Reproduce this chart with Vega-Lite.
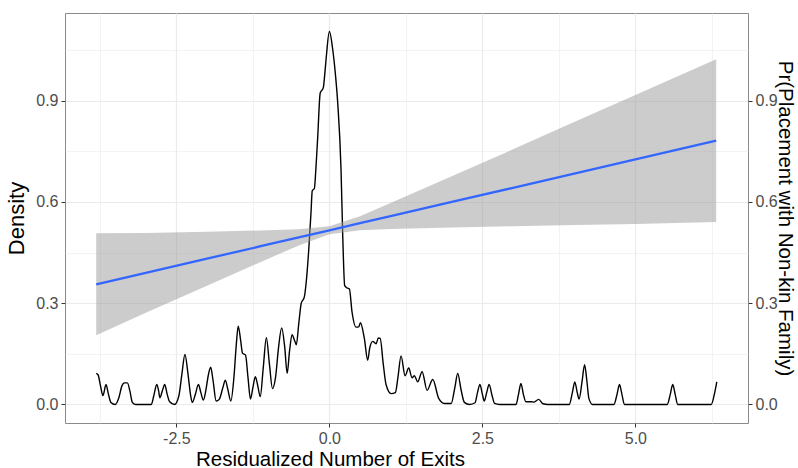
{
  "$schema": "https://vega.github.io/schema/vega-lite/v6.json",
  "width": 683,
  "height": 410,
  "autosize": {"type": "none"},
  "padding": {"left": 65, "top": 13, "right": 50, "bottom": 45},
  "background": "white",
  "config": {
    "font": "Liberation Sans",
    "view": {"stroke": "#8a8a8a", "strokeWidth": 1},
    "axis": {
      "domain": false,
      "gridColor": "#EBEBEB",
      "tickColor": "#333333",
      "tickSize": 4,
      "labelColor": "#4D4D4D",
      "labelFontSize": 16,
      "titleFontSize": 22,
      "titleColor": "#000000",
      "titleFontWeight": "normal",
      "labelFlush": false
    }
  },
  "datasets": {
    "density": [
      {"x": -3.81, "density": 0.092}, {"x": -3.78, "density": 0.088}, {"x": -3.74, "density": 0.055}, {"x": -3.70, "density": 0.026},
      {"x": -3.65, "density": 0.059}, {"x": -3.61, "density": 0.030}, {"x": -3.57, "density": 0.006}, {"x": -3.50, "density": 0.0},
      {"x": -3.44, "density": 0.020}, {"x": -3.39, "density": 0.055}, {"x": -3.35, "density": 0.064}, {"x": -3.30, "density": 0.064},
      {"x": -3.26, "density": 0.040}, {"x": -3.22, "density": 0.006}, {"x": -3.17, "density": 0.0}, {"x": -2.91, "density": 0.0},
      {"x": -2.87, "density": 0.025}, {"x": -2.82, "density": 0.059}, {"x": -2.79, "density": 0.040}, {"x": -2.77, "density": 0.020},
      {"x": -2.73, "density": 0.040}, {"x": -2.69, "density": 0.059}, {"x": -2.65, "density": 0.030}, {"x": -2.61, "density": 0.008},
      {"x": -2.53, "density": 0.0}, {"x": -2.46, "density": 0.025}, {"x": -2.41, "density": 0.090}, {"x": -2.36, "density": 0.148},
      {"x": -2.31, "density": 0.090}, {"x": -2.27, "density": 0.030}, {"x": -2.24, "density": 0.006}, {"x": -2.19, "density": 0.030},
      {"x": -2.14, "density": 0.059}, {"x": -2.10, "density": 0.035}, {"x": -2.06, "density": 0.013}, {"x": -2.02, "density": 0.040},
      {"x": -1.98, "density": 0.085}, {"x": -1.94, "density": 0.110}, {"x": -1.90, "density": 0.070}, {"x": -1.85, "density": 0.010},
      {"x": -1.80, "density": 0.015}, {"x": -1.74, "density": 0.050}, {"x": -1.70, "density": 0.072}, {"x": -1.66, "density": 0.045},
      {"x": -1.61, "density": 0.010}, {"x": -1.56, "density": 0.080}, {"x": -1.52, "density": 0.180}, {"x": -1.49, "density": 0.232},
      {"x": -1.45, "density": 0.190}, {"x": -1.42, "density": 0.152}, {"x": -1.37, "density": 0.146}, {"x": -1.33, "density": 0.080},
      {"x": -1.29, "density": 0.016}, {"x": -1.25, "density": 0.050}, {"x": -1.21, "density": 0.082}, {"x": -1.17, "density": 0.055},
      {"x": -1.13, "density": 0.023}, {"x": -1.08, "density": 0.110}, {"x": -1.03, "density": 0.198}, {"x": -0.98, "density": 0.120},
      {"x": -0.93, "density": 0.047}, {"x": -0.88, "density": 0.080}, {"x": -0.83, "density": 0.170}, {"x": -0.78, "density": 0.227},
      {"x": -0.73, "density": 0.170}, {"x": -0.69, "density": 0.092}, {"x": -0.65, "density": 0.160}, {"x": -0.61, "density": 0.207},
      {"x": -0.57, "density": 0.190}, {"x": -0.54, "density": 0.177}, {"x": -0.50, "density": 0.240}, {"x": -0.46, "density": 0.300},
      {"x": -0.41, "density": 0.318}, {"x": -0.38, "density": 0.360}, {"x": -0.34, "density": 0.451}, {"x": -0.30, "density": 0.570},
      {"x": -0.28, "density": 0.633}, {"x": -0.245, "density": 0.640}, {"x": -0.22, "density": 0.700}, {"x": -0.19, "density": 0.795},
      {"x": -0.15, "density": 0.923}, {"x": -0.10, "density": 0.938}, {"x": -0.07, "density": 0.990}, {"x": -0.05, "density": 1.031},
      {"x": 0.0, "density": 1.105}, {"x": 0.055, "density": 1.051}, {"x": 0.10, "density": 0.975}, {"x": 0.136, "density": 0.894},
      {"x": 0.19, "density": 0.697}, {"x": 0.218, "density": 0.500}, {"x": 0.25, "density": 0.352}, {"x": 0.29, "density": 0.345},
      {"x": 0.327, "density": 0.342}, {"x": 0.37, "density": 0.274}, {"x": 0.436, "density": 0.229}, {"x": 0.48, "density": 0.230},
      {"x": 0.507, "density": 0.242}, {"x": 0.572, "density": 0.195}, {"x": 0.626, "density": 0.131}, {"x": 0.66, "density": 0.168},
      {"x": 0.708, "density": 0.187}, {"x": 0.763, "density": 0.180}, {"x": 0.80, "density": 0.197}, {"x": 0.83, "density": 0.196},
      {"x": 0.88, "density": 0.120}, {"x": 0.926, "density": 0.059}, {"x": 1.008, "density": 0.032}, {"x": 1.078, "density": 0.035},
      {"x": 1.12, "density": 0.080}, {"x": 1.171, "density": 0.144}, {"x": 1.237, "density": 0.085}, {"x": 1.296, "density": 0.108},
      {"x": 1.351, "density": 0.079}, {"x": 1.389, "density": 0.085}, {"x": 1.443, "density": 0.067}, {"x": 1.515, "density": 0.097},
      {"x": 1.596, "density": 0.042}, {"x": 1.689, "density": 0.074}, {"x": 1.786, "density": 0.018}, {"x": 1.879, "density": 0.003},
      {"x": 1.99, "density": 0.003}, {"x": 2.05, "density": 0.050}, {"x": 2.097, "density": 0.092}, {"x": 2.15, "density": 0.045},
      {"x": 2.206, "density": 0.006}, {"x": 2.29, "density": 0.0}, {"x": 2.38, "density": 0.005}, {"x": 2.42, "density": 0.035},
      {"x": 2.46, "density": 0.059}, {"x": 2.50, "density": 0.030}, {"x": 2.53, "density": 0.010}, {"x": 2.57, "density": 0.035},
      {"x": 2.61, "density": 0.059}, {"x": 2.66, "density": 0.025}, {"x": 2.70, "density": 0.003}, {"x": 2.78, "density": 0.0},
      {"x": 3.05, "density": 0.0}, {"x": 3.09, "density": 0.030}, {"x": 3.13, "density": 0.062}, {"x": 3.17, "density": 0.030},
      {"x": 3.21, "density": 0.008}, {"x": 3.30, "density": 0.008}, {"x": 3.34, "density": 0.007}, {"x": 3.42, "density": 0.015},
      {"x": 3.49, "density": 0.002}, {"x": 3.57, "density": 0.0}, {"x": 3.92, "density": 0.0}, {"x": 3.97, "density": 0.035},
      {"x": 4.01, "density": 0.067}, {"x": 4.05, "density": 0.035}, {"x": 4.08, "density": 0.016}, {"x": 4.13, "density": 0.070},
      {"x": 4.17, "density": 0.118}, {"x": 4.21, "density": 0.065}, {"x": 4.24, "density": 0.018}, {"x": 4.30, "density": 0.0},
      {"x": 4.65, "density": 0.0}, {"x": 4.70, "density": 0.030}, {"x": 4.74, "density": 0.059}, {"x": 4.78, "density": 0.030},
      {"x": 4.82, "density": 0.0}, {"x": 5.52, "density": 0.0}, {"x": 5.57, "density": 0.030}, {"x": 5.61, "density": 0.059},
      {"x": 5.65, "density": 0.030}, {"x": 5.69, "density": 0.0}, {"x": 6.24, "density": 0.0}, {"x": 6.29, "density": 0.030},
      {"x": 6.33, "density": 0.067}
    ],
    "fit": [
      {"x": -3.81, "fit": 0.356, "lo": 0.205, "hi": 0.507},
      {"x": -3.0, "fit": 0.390, "lo": 0.272, "hi": 0.508},
      {"x": -2.0, "fit": 0.432, "lo": 0.352, "hi": 0.512},
      {"x": -1.0, "fit": 0.474, "lo": 0.432, "hi": 0.516},
      {"x": -0.5, "fit": 0.495, "lo": 0.471, "hi": 0.519},
      {"x": 0.0, "fit": 0.516, "lo": 0.504, "hi": 0.528},
      {"x": 0.5, "fit": 0.537, "lo": 0.516, "hi": 0.558},
      {"x": 1.0, "fit": 0.558, "lo": 0.520, "hi": 0.597},
      {"x": 2.0, "fit": 0.600, "lo": 0.524, "hi": 0.676},
      {"x": 3.0, "fit": 0.642, "lo": 0.528, "hi": 0.756},
      {"x": 4.0, "fit": 0.684, "lo": 0.532, "hi": 0.837},
      {"x": 5.0, "fit": 0.726, "lo": 0.535, "hi": 0.917},
      {"x": 6.32, "fit": 0.782, "lo": 0.541, "hi": 1.023}
    ]
  },
  "layer": [
    {
      "data": {"name": "density"},
      "mark": {"type": "line", "color": "#000000", "strokeWidth": 1.4, "interpolate": "monotone"},
      "encoding": {
        "x": {
          "field": "x", "type": "quantitative", "title": "Residualized Number of Exits",
          "scale": {"domain": [-4.32, 6.84], "nice": false, "zero": false},
          "axis": {
            "values": [-3.75, -2.5, -1.25, 0, 1.25, 2.5, 3.75, 5, 6.25],
            "grid": true,
            "gridWidth": {"condition": {"test": "abs(datum.value % 2.5) > 0.001", "value": 0.6}, "value": 1.2},
            "tickOpacity": {"condition": {"test": "abs(datum.value % 2.5) > 0.001", "value": 0}, "value": 1},
            "labelExpr": "abs(datum.value % 2.5) > 0.001 ? '' : replace(format(datum.value, '.1f'), '\u2212', '-')",
            "labelPadding": 3,
            "titleFontSize": 20.5,
            "titlePadding": 3,
            "titleX": 265,
            "titleAlign": "center"
          }
        },
        "y": {
          "field": "density", "type": "quantitative", "title": "Density",
          "scale": {"domain": [-0.055, 1.16], "nice": false, "zero": false},
          "axis": {
            "orient": "left",
            "values": [0, 0.15, 0.3, 0.45, 0.6, 0.75, 0.9, 1.05],
            "grid": true,
            "gridWidth": {"condition": {"test": "round(datum.value * 100) % 30 != 0", "value": 0.6}, "value": 1.2},
            "tickOpacity": {"condition": {"test": "round(datum.value * 100) % 30 != 0", "value": 0}, "value": 1},
            "labelExpr": "round(datum.value * 100) % 30 != 0 ? '' : format(datum.value, '.1f')",
            "labelPadding": 3,
            "titlePadding": 7
          }
        }
      }
    },
    {
      "data": {"name": "fit"},
      "layer": [
        {
          "mark": {"type": "area", "color": "#999999", "opacity": 0.5},
          "encoding": {
            "x": {"field": "x", "type": "quantitative", "title": "Residualized Number of Exits"},
            "y": {
              "field": "lo", "type": "quantitative", "title": "Pr(Placement with Non-kin Family)",
              "scale": {"domain": [-0.055, 1.16], "nice": false, "zero": false},
              "axis": {
                "orient": "right",
                "values": [0, 0.3, 0.6, 0.9],
                "grid": false,
                "format": ".1f",
                "labelPadding": 3,
                "titlePadding": -3,
                "titleFontSize": 20.5,
                "titleAngle": 90
              }
            },
            "y2": {"field": "hi"}
          }
        },
        {
          "mark": {"type": "line", "color": "#3366FF", "strokeWidth": 2.3},
          "encoding": {
            "x": {"field": "x", "type": "quantitative", "title": "Residualized Number of Exits"},
            "y": {"field": "fit", "type": "quantitative", "title": "Pr(Placement with Non-kin Family)"}
          }
        }
      ]
    }
  ],
  "resolve": {"scale": {"y": "independent"}, "axis": {"y": "independent"}}
}
